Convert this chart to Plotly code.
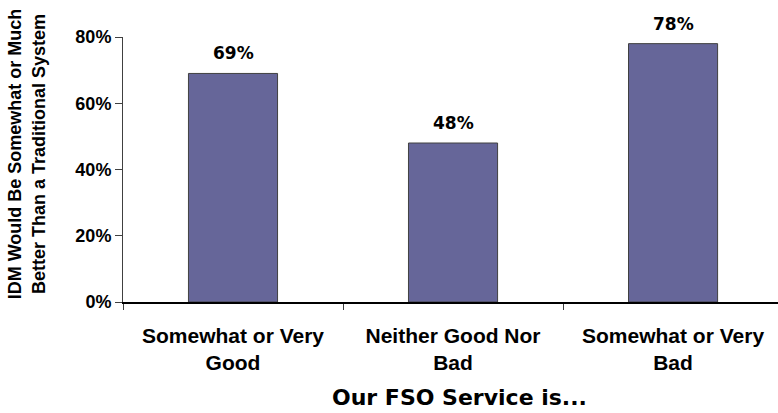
import plotly.graph_objects as go

categories = ["Somewhat or Very<br>Good", "Neither Good Nor<br>Bad", "Somewhat or Very<br>Bad"]
values = [69, 48, 78]
value_labels = ["69%", "48%", "78%"]
y_ticks = [0, 20, 40, 60, 80]
y_tick_labels = ["0%", "20%", "40%", "60%", "80%"]
y_title = "IDM Would Be Somewhat or Much<br>Better Than a Traditional System"
x_title = "Our FSO Service is..."

fig = go.Figure()
fig.add_trace(go.Bar(
    x=categories, y=values,
    marker=dict(color="#666699", line=dict(color="#404040", width=1)),
    hoverinfo="skip",
))
for c, v, t in zip(categories, values, value_labels):
    fig.add_annotation(x=c, y=v, text=t, showarrow=False, yanchor="bottom", yshift=8,
                       font=dict(family="DejaVu Sans", size=17, color="black", weight="bold"))

fig.add_annotation(xref="paper", yref="paper", x=-0.147, y=0.56, text=y_title, textangle=-90,
                   showarrow=False, xanchor="center", yanchor="middle",
                   font=dict(family="Liberation Sans", size=18, color="black", weight="bold"))
fig.add_annotation(xref="paper", yref="paper", x=0.513, y=-0.362, text=x_title,
                   showarrow=False, xanchor="center", yanchor="middle",
                   font=dict(family="DejaVu Sans", size=22, color="black", weight="bold"))

fig.update_layout(
    width=778, height=413,
    margin=dict(l=123, r=0, t=37, b=111),
    paper_bgcolor="white", plot_bgcolor="white",
    showlegend=False, bargap=0.595,
    xaxis=dict(type="category", range=[-0.5, 2.477], tickson="boundaries",
               ticks="outside", ticklen=6, tickcolor="#404040",
               showline=True, linecolor="black", linewidth=1.5,
               showgrid=False, ticklabelstandoff=14,
               tickfont=dict(family="Liberation Sans", size=21, color="black", weight="bold")),
    yaxis=dict(range=[0, 80], tickvals=y_ticks, ticktext=y_tick_labels,
               ticks="outside", ticklen=7, tickcolor="#404040",
               showline=True, linecolor="#404040", linewidth=1,
               showgrid=False, zeroline=False,
               tickfont=dict(family="Liberation Sans", size=18, color="black", weight="bold")),
)

fig.write_html("out.html")
